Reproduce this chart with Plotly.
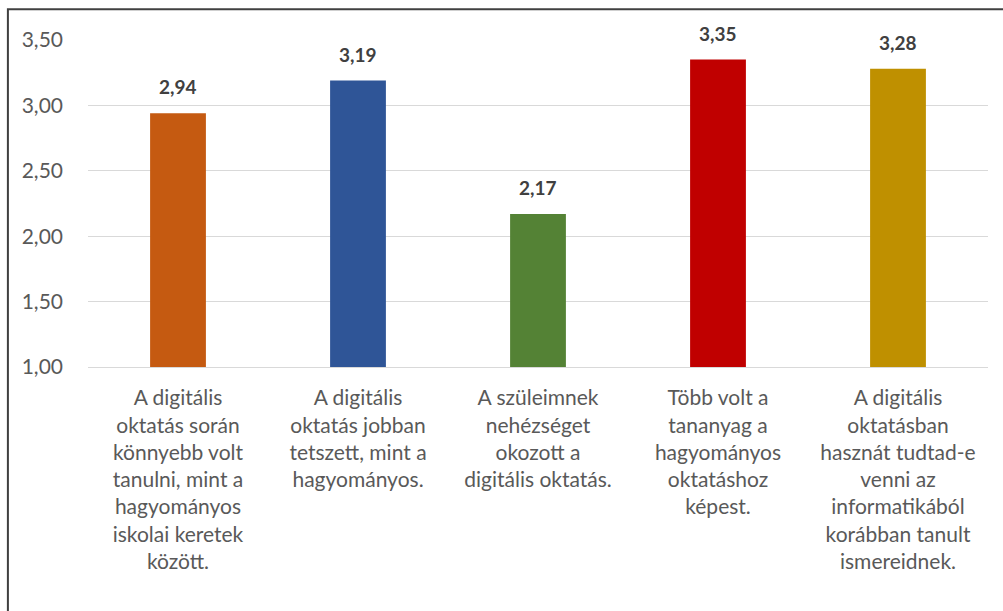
import plotly.graph_objects as go

categories = [
    "A digitális<br>oktatás során<br>könnyebb volt<br>tanulni, mint a<br>hagyományos<br>iskolai keretek<br>között.",
    "A digitális<br>oktatás jobban<br>tetszett, mint a<br>hagyományos.",
    "A szüleimnek<br>nehézséget<br>okozott a<br>digitális oktatás.",
    "Több volt a<br>tananyag a<br>hagyományos<br>oktatáshoz<br>képest.",
    "A digitális<br>oktatásban<br>hasznát tudtad-e<br>venni az<br>informatikából<br>korábban tanult<br>ismereidnek.",
]
values = [2.94, 3.19, 2.17, 3.35, 3.28]
value_labels = ["2,94", "3,19", "2,17", "3,35", "3,28"]
colors = ["#C55A11", "#2F5597", "#548235", "#C00000", "#BF9000"]
tick_vals = [1.0, 1.5, 2.0, 2.5, 3.0, 3.5]
tick_text = ["1,00", "1,50", "2,00", "2,50", "3,00", "3,50"]

fig = go.Figure(go.Bar(
    x=categories, y=values, base=0,
    marker=dict(color=colors, line=dict(width=0)),
    width=0.31, cliponaxis=False, hoverinfo="skip",
))

for c, v, t in zip(categories, values, value_labels):
    fig.add_annotation(
        x=c, y=v, text=t, showarrow=False, yanchor="bottom", yshift=13,
        font=dict(family="Lato", size=19, color="#404040", weight="bold"),
    )

fig.update_layout(
    width=1003, height=611,
    margin=dict(l=88, r=15, t=40, b=244, autoexpand=False),
    paper_bgcolor="white", plot_bgcolor="white",
    showlegend=False,
    font=dict(family="Lato", color="#595959"),
    xaxis=dict(
        tickfont=dict(size=21, color="#595959"),
        showline=True, linecolor="#D9D9D9", linewidth=1,
        ticks="", showgrid=False, automargin=False, ticklabelstandoff=12,
    ),
    yaxis=dict(
        range=[1.0, 3.5], tickvals=tick_vals, ticktext=tick_text,
        tickfont=dict(size=21, color="#595959"),
        showgrid=True, gridcolor="#D9D9D9", gridwidth=1,
        zeroline=False, showline=False, ticks="", ticklabelstandoff=24,
        automargin=False,
    ),
    shapes=[dict(
        type="rect", xref="paper", yref="paper",
        x0=-0.089, x1=1.03, y0=-0.9, y1=1.094,
        line=dict(color="#404040", width=2), fillcolor="rgba(0,0,0,0)",
    )],
)

fig.write_html(
    "out.html",
    config={"displayModeBar": False},
    post_script="document.body.style.margin='0';",
)
